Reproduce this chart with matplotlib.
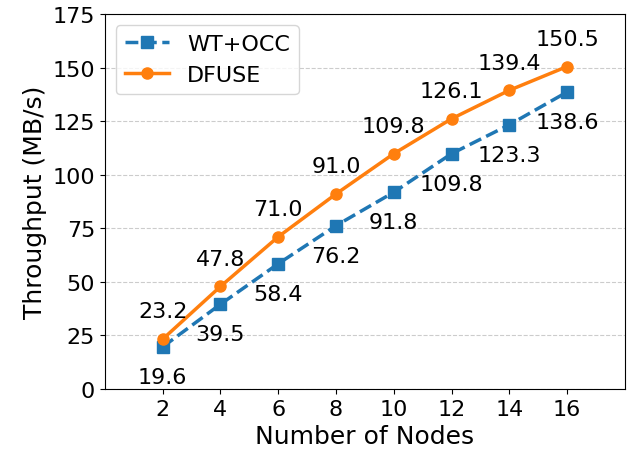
import matplotlib
matplotlib.use('Agg')
import matplotlib.pyplot as plt

nodes = [2, 4, 6, 8, 10, 12, 14, 16]
wt_occ = [19.6, 39.5, 58.4, 76.2, 91.8, 109.8, 123.3, 138.6]
dfuse = [23.2, 47.8, 71.0, 91.0, 109.8, 126.1, 139.4, 150.5]

fig = plt.figure(figsize=(6.28, 4.56), dpi=100)
ax = fig.add_axes([0.167, 0.145, 0.828, 0.822])

ax.plot(nodes, wt_occ, '--s', color='#1f77b4', linewidth=2.5, markersize=8, label='WT+OCC')
ax.plot(nodes, dfuse, '-o', color='#ff7f0e', linewidth=2.5, markersize=8, label='DFUSE')

for x, v in zip(nodes, wt_occ):
    ax.annotate(f'{v:.1f}', (x, v), xytext=(0, -21.5), textcoords='offset points',
                ha='center', va='center', fontsize=16)
for x, v in zip(nodes, dfuse):
    ax.annotate(f'{v:.1f}', (x, v), xytext=(0, 20), textcoords='offset points',
                ha='center', va='center', fontsize=16)

ax.set_xlim(0, 18)
ax.set_ylim(0, 175)
ax.set_xticks(nodes)
ax.set_yticks(range(0, 176, 25))
ax.tick_params(labelsize=16)
ax.set_xlabel('Number of Nodes', fontsize=18)
ax.set_ylabel('Throughput (MB/s)', fontsize=18)
ax.grid(axis='y', linestyle='--', color='#cccccc', linewidth=0.8)
ax.set_axisbelow(True)
ax.legend(loc='upper left', fontsize=16)

fig.savefig('out.png', dpi=100)
